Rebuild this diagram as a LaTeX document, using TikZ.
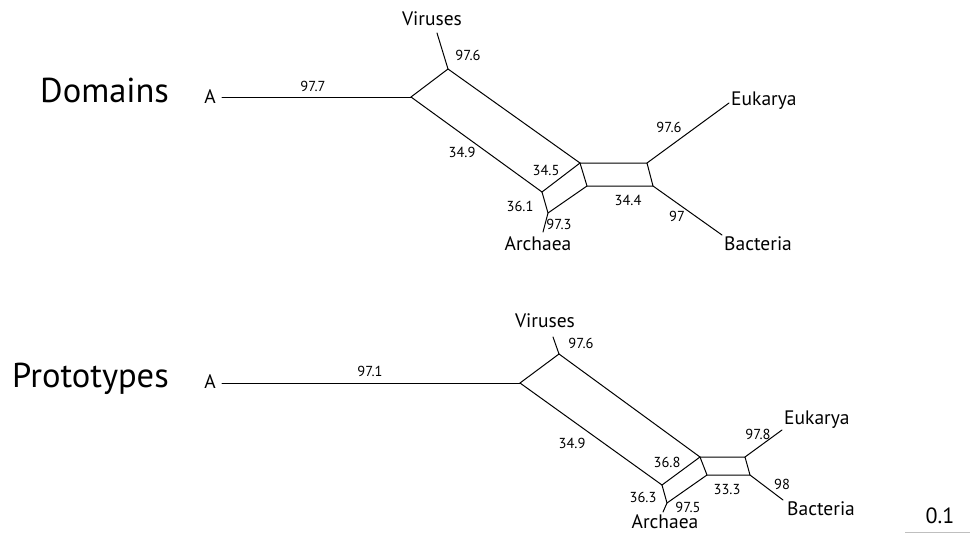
\documentclass[tikz,border=0pt]{standalone}
\usepackage{fontspec}
\setmainfont{PT Sans}
\begin{document}
\begin{tikzpicture}[x=1pt,y=-1pt,
  edge/.style={line width=1.0pt,line cap=round,line join=round},
  sup/.style={font=\fontsize{14.5}{14.5}\selectfont,inner sep=0pt},
  taxon/.style={font=\fontsize{19.5}{19.5}\selectfont,inner sep=0pt},
  title/.style={font=\fontsize{34.5}{34.5}\selectfont,inner sep=0pt}]
\useasboundingbox (0,0) rectangle (970,533);

% ---------- Domains network ----------
\node[title,anchor=west] (t1) at (40,90) {Domains};
\node[taxon] (ta1) at (210,97) {A};
\coordinate (a1) at (222,97);
\coordinate (p1) at (411,97);
\coordinate (v1) at (448,69);
\coordinate (vl1) at (437,33);
\coordinate (c1) at (580,163);
\coordinate (l1) at (542,192);
\coordinate (r1) at (548,213);
\coordinate (rl1) at (543,232);
\coordinate (c2) at (587,186);
\coordinate (e1) at (647,163);
\coordinate (el1) at (729,103);
\coordinate (b1) at (653,186);
\coordinate (bl1) at (722,235);

\draw[edge] (a1) -- (p1);
\draw[edge] (p1) -- (v1) -- (vl1);
\draw[edge] (p1) -- (l1) -- (r1) -- (rl1);
\draw[edge] (v1) -- (c1) -- (l1);
\draw[edge] (c1) -- (c2) -- (r1);
\draw[edge] (c1) -- (e1) -- (b1) -- (c2);
\draw[edge] (e1) -- (el1);
\draw[edge] (b1) -- (bl1);

\node[taxon] (vx1) at (432,19) {Viruses};
\node[taxon] (ar1) at (538,244) {Archaea};
\node[taxon,anchor=west] (eu1) at (731,101) {Eukarya};
\node[taxon,anchor=west] (ba1) at (724,244) {Bacteria};

\node[sup] at (313,86) {97.7};
\node[sup] at (468,55) {97.6};
\node[sup] at (462,152) {34.9};
\node[sup] at (546,170) {34.5};
\node[sup] at (520,206) {36.1};
\node[sup] at (559,224) {97.3};
\node[sup] at (628,200) {34.4};
\node[sup] at (669,127) {97.6};
\node[sup] at (677,216) {97};

% ---------- Prototypes network ----------
\node[title,anchor=west] (t2) at (12,379) {Prototypes};
\node[taxon] (ta2) at (210,382) {A};
\coordinate (a2) at (222,383);
\coordinate (p2) at (520,383);
\coordinate (v2) at (559,354);
\coordinate (vl2) at (553,337);
\coordinate (c3) at (700,457);
\coordinate (l2) at (662,485);
\coordinate (r2) at (667,503);
\coordinate (rl2) at (663,512);
\coordinate (c4) at (707,475);
\coordinate (e2) at (745,457);
\coordinate (el2) at (782,430);
\coordinate (b2) at (750,475);
\coordinate (bl2) at (783,500);

\draw[edge] (a2) -- (p2);
\draw[edge] (p2) -- (v2) -- (vl2);
\draw[edge] (p2) -- (l2) -- (r2) -- (rl2);
\draw[edge] (v2) -- (c3) -- (l2);
\draw[edge] (c3) -- (c4) -- (r2);
\draw[edge] (c3) -- (e2) -- (b2) -- (c4);
\draw[edge] (e2) -- (el2);
\draw[edge] (b2) -- (bl2);

\node[taxon] (vx2) at (545,321) {Viruses};
\node[taxon] (ar2) at (665,522) {Archaea};
\node[taxon,anchor=west] (eu2) at (784,420) {Eukarya};
\node[taxon,anchor=west] (ba2) at (787,509) {Bacteria};

\node[sup] at (370,371) {97.1};
\node[sup] at (581,343) {97.6};
\node[sup] at (572,443) {34.9};
\node[sup] at (667,462) {36.8};
\node[sup] at (643,497) {36.3};
\node[sup] at (688,507) {97.5};
\node[sup] at (727,490) {33.3};
\node[sup] at (758,434) {97.8};
\node[sup] at (782,484) {98};

% ---------- scale bar ----------
\node[font=\fontsize{22}{22}\selectfont,inner sep=0pt] (sc) at (940,516) {0.1};
\coordinate (s0) at (905,532);
\coordinate (s1) at (970,532);
\draw[line width=0.8pt,gray!50] (s0) -- (s1);
\end{tikzpicture}
\end{document}
